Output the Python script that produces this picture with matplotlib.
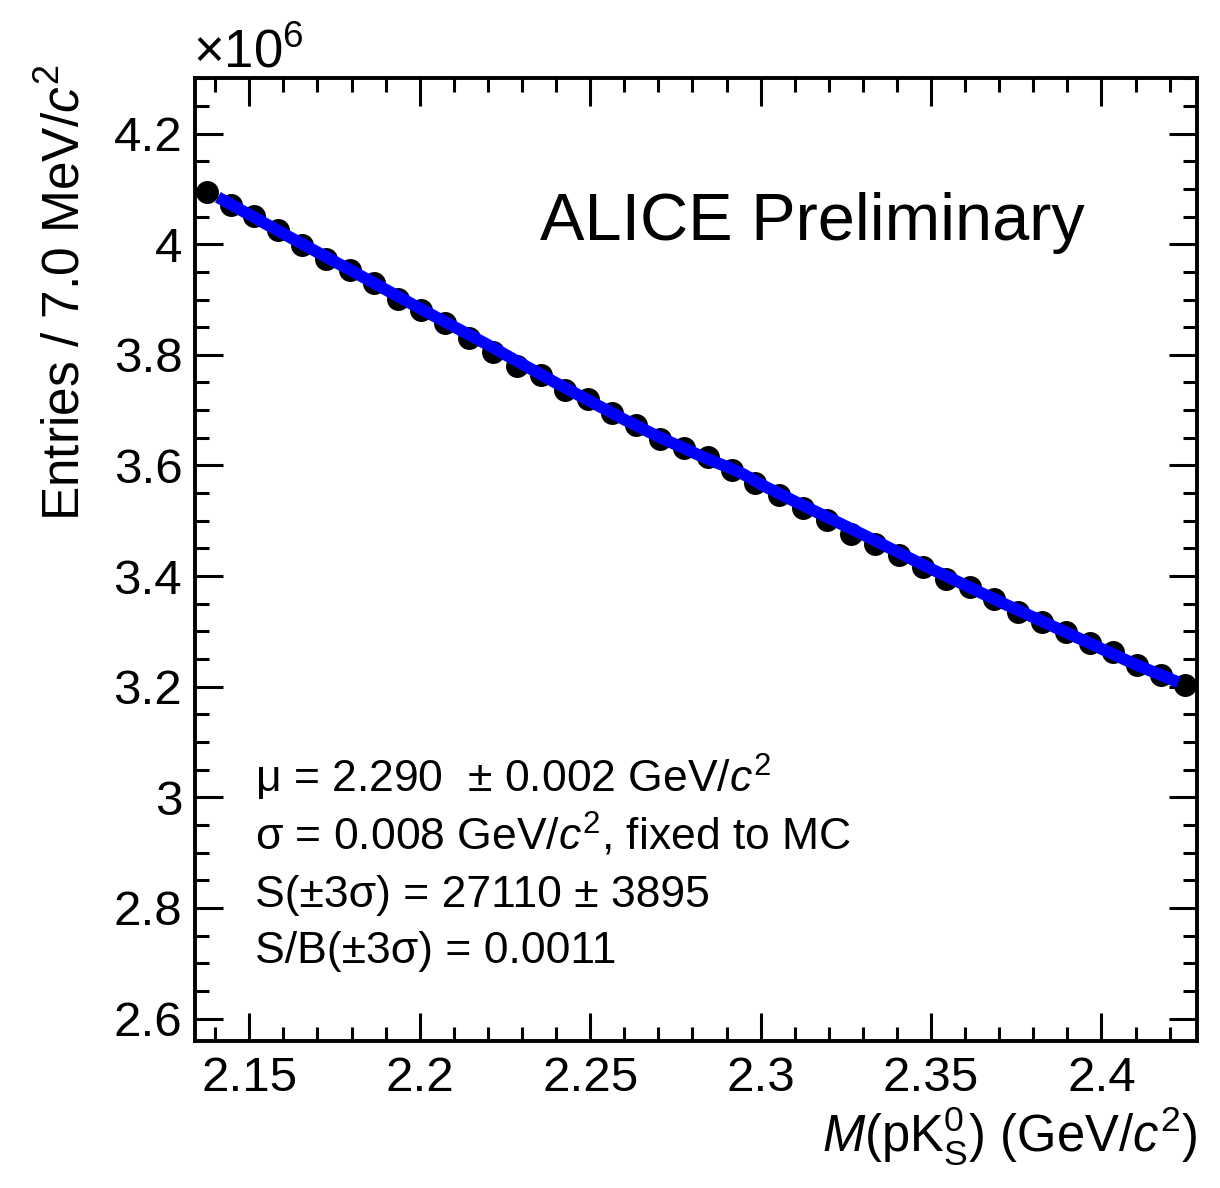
import matplotlib
matplotlib.use('Agg')
import matplotlib.pyplot as plt
import numpy as np
from matplotlib.ticker import MultipleLocator, FuncFormatter

plt.rcParams['font.family'] = ['Liberation Sans', 'DejaVu Sans']
plt.rcParams['mathtext.fontset'] = 'custom'
plt.rcParams['mathtext.rm'] = 'Liberation Sans'
plt.rcParams['mathtext.it'] = 'Liberation Sans:italic'
plt.rcParams['mathtext.bf'] = 'Liberation Sans:bold'

# histogram: 42 bins of 7 MeV, counts in units of 1e6
bin_lo = 2.134
bin_w = 0.007
counts = [4.0944, 4.0715, 4.0504, 4.0250, 3.9991, 3.9738, 3.9538, 3.9297,
          3.9008, 3.8802, 3.8573, 3.8302, 3.8060, 3.7801, 3.7638, 3.7367,
          3.7204, 3.6944, 3.6733, 3.6474, 3.6310, 3.6148, 3.5919, 3.5689,
          3.5466, 3.5225, 3.5014, 3.4760, 3.4579, 3.4380, 3.4169, 3.3940,
          3.3795, 3.3584, 3.3342, 3.3161, 3.2980, 3.2799, 3.2630, 3.2389,
          3.2208, 3.2027]

# fit curve
fit_x = [2.1408, 2.16, 2.18, 2.20, 2.22, 2.24, 2.26, 2.27, 2.28, 2.285,
         2.29, 2.295, 2.30, 2.31, 2.33, 2.35, 2.37, 2.39, 2.41, 2.4225]
fit_y = [4.085, 4.019, 3.952, 3.884, 3.818, 3.749, 3.683, 3.652, 3.624, 3.610,
         3.598, 3.584, 3.566, 3.535, 3.475, 3.413, 3.354, 3.297, 3.240, 3.208]

info = ['\u03bc = 2.290  \u00b1 0.002 GeV/$c^{2}$',
        '\u03c3 = 0.008 GeV/$c^{2}$, fixed to MC',
        'S(\u00b13\u03c3) = 27110 \u00b1 3895',
        'S/B(\u00b13\u03c3) = 0.0011']

centers = bin_lo + bin_w * (np.arange(len(counts)) + 0.5)

fig = plt.figure(figsize=(12.2, 11.88), dpi=100)
ax = fig.add_axes([0.1596, 0.1240, 0.8215, 0.8101])

ax.plot(centers, counts, 'o', color='black', ms=15.5, zorder=3)
ax.plot(fit_x, fit_y, '-', color='#0000ff', lw=8.5, solid_capstyle='butt', zorder=4)

ax.set_xlim(bin_lo, bin_lo + bin_w * len(counts))
ax.set_ylim(2.56, 4.30)

ax.xaxis.set_major_locator(MultipleLocator(0.05))
ax.xaxis.set_minor_locator(MultipleLocator(0.01))
ax.yaxis.set_major_locator(MultipleLocator(0.2))
ax.yaxis.set_minor_locator(MultipleLocator(0.05))
fmt = FuncFormatter(lambda v, p: f'{v:g}')
ax.xaxis.set_major_formatter(fmt)
ax.yaxis.set_major_formatter(fmt)

ax.tick_params(which='both', direction='in', top=True, right=True, width=2.2)
ax.tick_params(which='major', length=20, labelsize=35.5)
ax.tick_params(which='minor', length=10)
ax.tick_params(axis='x', which='major', pad=11)
ax.tick_params(axis='y', which='major', pad=9)
for s in ax.spines.values():
    s.set_linewidth(2.8)

ax.set_xlabel('$M$(pK$_{\\mathrm{S}}^{0}$) (GeV/$c^{2}$)', fontsize=36.5, loc='right', labelpad=2)
ax.set_ylabel('Entries / 7.0 MeV/$c^{2}$', fontsize=37, loc='top', labelpad=14)
ax.yaxis.set_label_coords(-0.104, 1.014)

fig.text(0.158, 0.9428, '\u00d710$^{6}$', fontsize=38, ha='left', va='baseline')

ax.text(0.888, 0.832, 'ALICE Preliminary', transform=ax.transAxes,
        fontsize=48, ha='right', va='baseline')

ys = [0.2574, 0.1981, 0.1389, 0.0807]
for t, y in zip(info, ys):
    ax.text(0.060, y, t, transform=ax.transAxes, fontsize=32, ha='left', va='baseline')

fig.savefig('out.png', dpi=100)
